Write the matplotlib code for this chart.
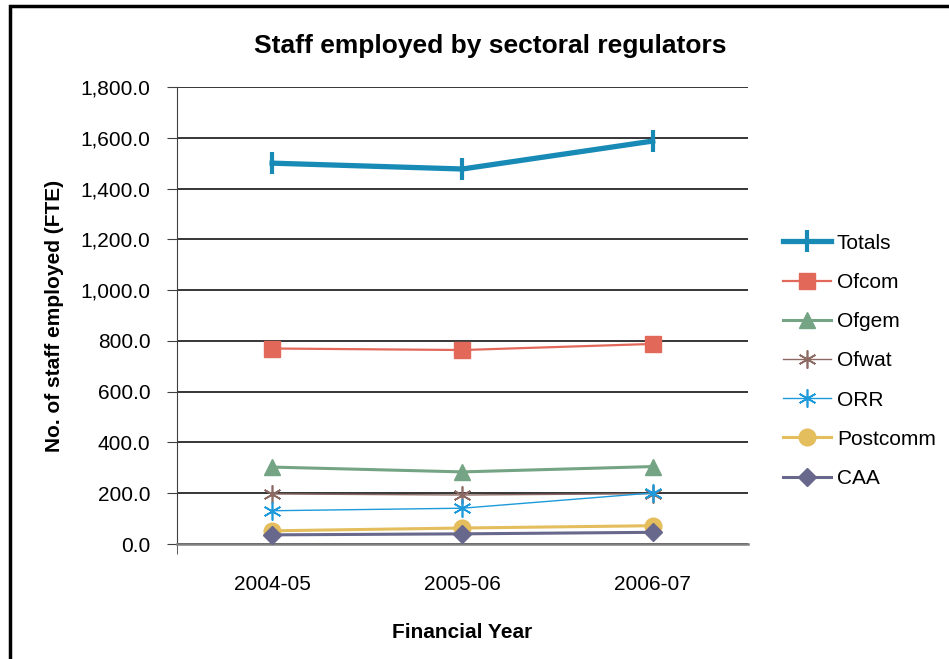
import numpy as np
import matplotlib
matplotlib.use('Agg')
import matplotlib.pyplot as plt
from matplotlib.ticker import FuncFormatter
from matplotlib.patches import Rectangle

plt.rcParams['font.family'] = ['Liberation Sans', 'DejaVu Sans']

years = ['2004-05', '2005-06', '2006-07']
totals = [1500, 1477, 1587]
ofcom = [770, 764, 788]
ofgem = [303, 284, 305]
ofwat = [197, 193, 198]
orr = [131, 141, 201]
postcomm = [52, 63, 72]
caa = [36, 40, 46]

series = [
    ('Totals', totals, '#178AB6', '|', 3.8, 16, 3.0),
    ('Ofcom', ofcom, '#E2695A', 's', 1.6, 11, 1),
    ('Ofgem', ofgem, '#74A483', '^', 2.2, 12, 1),
    ('Ofwat', ofwat, '#8C6A63', 'x', 1.0, 13, 1.2),
    ('ORR', orr, '#1E9ADA', 'x', 1.0, 13, 1.2),
    ('Postcomm', postcomm, '#E4BD5C', 'o', 2.2, 12, 1),
    ('CAA', caa, '#68678C', 'D', 2.2, 9, 1),
]

fig = plt.figure(figsize=(9.49, 6.59), dpi=100)
ax = fig.add_axes([0.1865, 0.1745, 0.6015, 0.6935])

x = np.arange(len(years))
handles = []
for name, vals, col, mk, lw, ms, mew in series:
    if mk == 'x':
        # asterisk marker
        h, = ax.plot(x, vals, color=col, lw=lw, marker=(6, 2, 0), ms=ms,
                     mew=mew, label=name, zorder=3)
    else:
        h, = ax.plot(x, vals, color=col, lw=lw, marker=mk, ms=ms,
                     mew=mew, mec=col, label=name, zorder=3)
    handles.append(h)

ax.set_xlim(-0.5, 2.5)
ax.set_ylim(0, 1800)
ax.set_yticks(np.arange(0, 1801, 200))
ax.yaxis.set_major_formatter(FuncFormatter(lambda v, p: '{:,.1f}'.format(v)))
ax.set_xticks(x)
ax.set_xticklabels(years)
ax.set_xticks([-0.5], minor=True)
ax.tick_params(axis='x', which='major', length=0, pad=22, labelsize=15)
ax.tick_params(axis='x', which='minor', length=7, direction='out', color='#404040')
ax.tick_params(axis='y', length=7, direction='out', pad=12, labelsize=15, color='#404040')

ax.grid(axis='y', color='black', lw=1.1)
ax.set_axisbelow(True)
for s in ['top', 'right']:
    ax.spines[s].set_visible(False)
ax.spines['left'].set_color('#404040')
ax.spines['bottom'].set_color('#808080')
ax.spines['bottom'].set_linewidth(1.8)

ax.set_ylabel('No. of staff employed (FTE)', fontsize=15, fontweight='bold', labelpad=12)
ax.set_xlabel('Financial Year', fontsize=15, fontweight='bold', labelpad=21)
fig.text(0.517, 0.930, 'Staff employed by sectoral regulators', fontsize=19,
         fontweight='bold', ha='center', va='center')

fig.legend(handles=handles, loc='upper left', bbox_to_anchor=(0.816, 0.658),
           frameon=False, fontsize=15, handlelength=2.3, handletextpad=0.3,
           labelspacing=0.97, borderaxespad=0)

# outer chart border (runs off the image on right and bottom)
fig.patches.append(Rectangle((10 / 949, -0.1), 1.2, 1 - 6 / 659 + 0.1,
                             transform=fig.transFigure, fill=False,
                             ec='black', lw=2.5))

fig.savefig('out.png', dpi=100)
